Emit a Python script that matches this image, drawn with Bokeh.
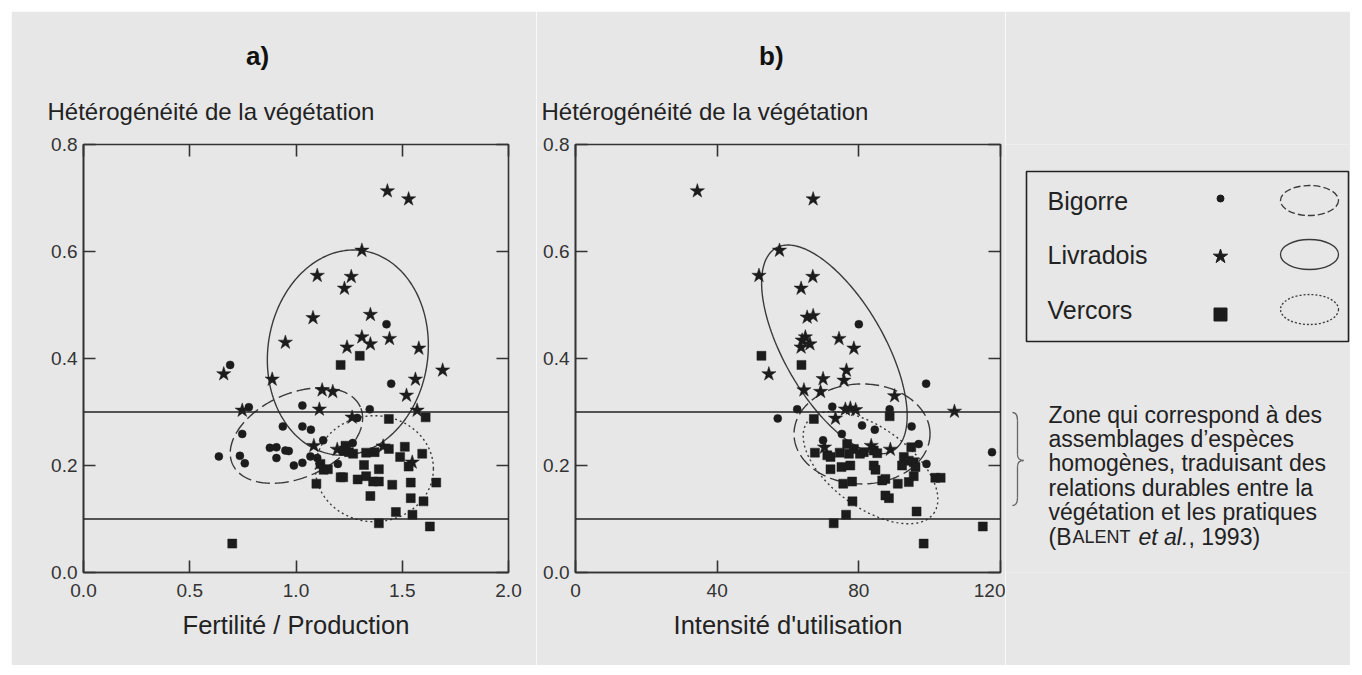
import numpy as np
from bokeh.plotting import figure
from bokeh.models import (LinearAxis, FixedTicker, Span, Range1d, Title, Spacer,
                          CustomJSTickFormatter, NumeralTickFormatter)
from bokeh.layouts import row, column
from bokeh.embed import file_html
from bokeh.resources import INLINE
from bokeh.core.properties import value

FONT = "Liberation Sans"
BG = "#e7e7e7"
INK = "#1c1c1c"
LINE = "#333333"

# ---------------- data : panel a (Fertilité / Production) ----------------
a_bigorre_x = [1.426, 0.69, 1.448, 0.778, 1.03, 1.347, 1.288, 0.938, 1.03, 1.07, 0.747, 1.128, 1.267,
               0.877, 0.908, 0.95, 0.966, 0.637, 0.736, 0.908, 0.759, 0.99, 1.03, 1.068, 1.1, 1.197]
a_bigorre_y = [0.464, 0.388, 0.353, 0.309, 0.312, 0.305, 0.289, 0.273, 0.273, 0.267, 0.259, 0.247, 0.242,
               0.233, 0.234, 0.228, 0.227, 0.217, 0.218, 0.214, 0.204, 0.200, 0.205, 0.217, 0.214, 0.203]

a_livradois_x = [1.43, 1.53, 1.31, 1.10, 1.26, 1.228, 1.08, 1.35, 1.31, 1.35, 1.44, 1.24, 1.578, 0.95,
                 1.69, 0.66, 0.888, 1.562, 1.52, 1.123, 1.173, 0.747, 1.11, 1.57, 1.264, 1.084, 1.41,
                 1.194, 1.547]
a_livradois_y = [0.713, 0.698, 0.602, 0.555, 0.553, 0.531, 0.476, 0.482, 0.440, 0.427, 0.437, 0.421, 0.419,
                 0.430, 0.378, 0.371, 0.361, 0.361, 0.331, 0.341, 0.338, 0.303, 0.305, 0.303, 0.290, 0.237,
                 0.236, 0.230, 0.206]

a_vercors_x = [1.30, 1.21, 1.61, 1.437, 1.233, 1.512, 1.437, 1.225, 1.249, 1.269, 1.33, 1.37, 1.49, 1.594,
               1.53, 1.115, 1.13, 1.15, 1.32, 1.39, 1.33, 1.21, 1.222, 1.29, 1.363, 1.39, 1.096, 1.453,
               1.54, 1.66, 1.35, 1.54, 1.60, 1.47, 1.548, 1.39, 1.63, 0.70]
a_vercors_y = [0.405, 0.388, 0.290, 0.287, 0.237, 0.235, 0.231, 0.228, 0.225, 0.222, 0.224, 0.225, 0.216,
               0.222, 0.198, 0.203, 0.192, 0.193, 0.201, 0.193, 0.180, 0.178, 0.178, 0.174, 0.170, 0.170,
               0.166, 0.164, 0.168, 0.168, 0.143, 0.139, 0.133, 0.113, 0.108, 0.092, 0.086, 0.054]

# ---------------- data : panel b (Intensité d'utilisation) ----------------
b_bigorre_x = [80.0, 99.0, 62.6, 72.5, 88.7, 57.1, 80.9, 84.5, 94.9, 75.2, 69.9, 96.9, 99.1, 117.6]
b_bigorre_y = [0.464, 0.353, 0.305, 0.310, 0.305, 0.288, 0.275, 0.267, 0.273, 0.259, 0.247, 0.240, 0.203,
               0.225]

b_livradois_x = [34.4, 67.1, 57.6, 51.8, 67.0, 63.7, 65.4, 67.1, 74.4, 78.6, 64.0, 64.9, 66.2, 63.7, 76.5,
                 54.6, 69.9, 75.8, 64.5, 69.2, 90.1, 107.0, 76.2, 77.6, 79.1, 73.4, 70.3, 83.5, 88.9]
b_livradois_y = [0.713, 0.698, 0.602, 0.555, 0.553, 0.531, 0.477, 0.480, 0.437, 0.419, 0.434, 0.440, 0.427,
                 0.421, 0.378, 0.371, 0.362, 0.359, 0.341, 0.338, 0.330, 0.301, 0.305, 0.307, 0.304, 0.288,
                 0.234, 0.237, 0.230]

b_vercors_x = [52.5, 63.8, 88.7, 67.3, 67.6, 71.1, 72.0, 74.6, 76.7, 78.6, 77.2, 80.3, 81.4, 84.2, 85.2,
               94.8, 92.7, 94.1, 95.5, 96.0, 92.2, 72.0, 75.1, 77.6, 84.2, 84.7, 101.6, 103.1, 95.5, 86.6,
               87.5, 75.6, 78.1, 91.0, 94.1, 87.5, 88.5, 78.2, 96.3, 76.4, 72.9, 115.0, 98.3]
b_vercors_y = [0.405, 0.388, 0.292, 0.287, 0.224, 0.219, 0.216, 0.224, 0.240, 0.231, 0.222, 0.222, 0.225,
               0.228, 0.223, 0.234, 0.216, 0.209, 0.206, 0.197, 0.200, 0.193, 0.197, 0.200, 0.200, 0.192,
               0.177, 0.177, 0.180, 0.172, 0.175, 0.166, 0.170, 0.166, 0.169, 0.144, 0.139, 0.133, 0.114,
               0.108, 0.092, 0.086, 0.054]

# ellipses: centre (data), semi-axes (screen px), angle of first axis (deg)
a_ell_center = {"Bigorre": (1.002, 0.256), "Livradois": (1.244, 0.411), "Vercors": (1.369, 0.194)}
b_ell_center = {"Bigorre": (80.9, 0.259), "Livradois": (73.1, 0.417), "Vercors": (83.3, 0.196)}
a_ell_axes = {"Bigorre": (70, 42, 24), "Livradois": (103, 80, 82), "Vercors": (59, 53, 0)}
b_ell_axes = {"Bigorre": (68, 50, 0), "Livradois": (117, 50, 120), "Vercors": (78, 40, -36)}

groups = ["Bigorre", "Livradois", "Vercors"]
markers = {"Bigorre": "circle", "Livradois": "star", "Vercors": "square"}
msize = {"Bigorre": 8, "Livradois": 15, "Vercors": 9}
dashes = {"Bigorre": "14 5", "Livradois": "solid", "Vercors": "2 3"}

zone_lo, zone_hi = 0.1, 0.3

a_xticks = [0.0, 0.5, 1.0, 1.5, 2.0]
b_xticks = [0, 40, 80, 120]
yticks = [0.0, 0.2, 0.4, 0.6, 0.8]

y_title = "Hétérogénéité de la végétation"
annotation_lines = ["Zone qui correspond à des", "assemblages d\u2019espèces",
                    "homogènes, traduisant des", "relations durables entre la",
                    "végétation et les pratiques"]

FRAME_W, FRAME_H = 425, 428
TOP, BOTTOM = 133, 93
H = TOP + FRAME_H + BOTTOM


def ellipse_xy(center, axes, kx, ky, n=240):
    cx, cy = center
    a, b, ang = axes
    t = np.linspace(0, 2 * np.pi, n)
    th = np.deg2rad(ang)
    px = a * np.cos(t) * np.cos(th) - b * np.sin(t) * np.sin(th)
    py = a * np.cos(t) * np.sin(th) + b * np.sin(t) * np.cos(th)
    return cx + px / kx, cy + py / ky


def panel(width, left, right, xr, xticks, xfmt, xlabel, tag, tag_off, title_off, data, centers, axes):
    p = figure(width=width, height=H, x_range=Range1d(*xr), y_range=Range1d(0, 0.8),
               output_backend="svg", toolbar_location=None,
               min_border_left=left, min_border_right=right, min_border_top=TOP, min_border_bottom=BOTTOM,
               background_fill_color=BG, border_fill_color=BG)
    p.grid.visible = False
    p.outline_line_color = LINE
    p.outline_line_width = 1.6
    p.xaxis.ticker = FixedTicker(ticks=xticks)
    p.yaxis.ticker = FixedTicker(ticks=yticks)
    p.xaxis.formatter = NumeralTickFormatter(format=xfmt)
    p.yaxis.formatter = NumeralTickFormatter(format="0.0")
    for ax in (p.xaxis[0], p.yaxis[0]):
        ax.major_tick_in = 12
        ax.major_tick_out = 0
        ax.minor_tick_in = 0
        ax.minor_tick_out = 0
        ax.axis_line_color = LINE
        ax.axis_line_width = 1.6
        ax.major_tick_line_color = LINE
        ax.major_tick_line_width = 1.6
        ax.major_label_text_font = FONT
        ax.major_label_text_font_size = "19px"
        ax.major_label_text_color = "#333333"
    p.xaxis.major_label_standoff = 11
    p.yaxis.major_label_standoff = 6
    p.xaxis.axis_label = xlabel
    p.xaxis.axis_label_text_font = FONT
    p.xaxis.axis_label_text_font_size = "25.5px"
    p.xaxis.axis_label_text_font_style = "normal"
    p.xaxis.axis_label_text_color = "#222222"
    p.xaxis.axis_label_standoff = 11
    # mirrored ticks on top / right
    for loc, tk in (("above", xticks), ("right", yticks)):
        ax = LinearAxis(ticker=FixedTicker(ticks=tk), formatter=CustomJSTickFormatter(code="return ''"),
                        major_tick_in=12, major_tick_out=0, minor_tick_in=0, minor_tick_out=0,
                        axis_line_color=None, major_tick_line_color=LINE, major_tick_line_width=1.6,
                        major_label_standoff=0)
        p.add_layout(ax, loc)
    # y-axis title (horizontal, above the frame) and panel tag
    p.add_layout(Title(text=y_title, align="left", offset=title_off, text_font=FONT,
                       text_font_size="24px", text_font_style="normal", text_color="#222222",
                       standoff=40), "above")
    p.title.text = tag
    p.title.align = "left"
    p.title.offset = tag_off
    p.title.text_font = FONT
    p.title.text_font_size = "26px"
    p.title.text_font_style = "bold"
    p.title.text_color = "#111111"
    p.title.standoff = 9

    p.add_layout(Span(location=zone_hi, dimension="width", line_color="#222222", line_width=1.6))
    p.add_layout(Span(location=zone_lo, dimension="width", line_color="#222222", line_width=1.6))
    kx = FRAME_W / (xr[1] - xr[0])
    ky = FRAME_H / 0.8
    for g in groups:
        ex, ey = ellipse_xy(centers[g], axes[g], kx, ky)
        p.line(ex, ey, line_color="#3a3a3a", line_width=1.4, line_dash=dashes[g])
    for g in groups:
        xs, ys = data[g]
        p.scatter(xs, ys, marker=markers[g], size=msize[g], fill_color=INK, line_color=INK, line_width=0.5)
    return p


pa = panel(525, 72, 28, (0, 2), a_xticks, "0.0", "Fertilité / Production", "a)", 162.5, -36,
           {"Bigorre": (a_bigorre_x, a_bigorre_y), "Livradois": (a_livradois_x, a_livradois_y),
            "Vercors": (a_vercors_x, a_vercors_y)}, a_ell_center, a_ell_axes)
pb = panel(469, 39, 5, (0, 120), b_xticks, "0", "Intensité d'utilisation", "b)", 183.5, -34,
           {"Bigorre": (b_bigorre_x, b_bigorre_y), "Livradois": (b_livradois_x, b_livradois_y),
            "Vercors": (b_vercors_x, b_vercors_y)}, b_ell_center, b_ell_axes)

# ---------------- legend + annotation panel (1 unit = 1 px) ----------------
WC = 345
pc = figure(width=WC, height=H, x_range=Range1d(0, WC), y_range=Range1d(0, FRAME_H),
            output_backend="svg", toolbar_location=None, x_axis_type=None, y_axis_type=None,
            min_border_left=0, min_border_right=0, min_border_top=TOP, min_border_bottom=BOTTOM,
            background_fill_color=BG, border_fill_color=BG)
pc.grid.visible = False
pc.outline_line_color = None

pc.quad(left=[21], right=[343], bottom=[231], top=[401], fill_color=None, line_color="#222222",
        line_width=1.6)
leg_text_y = [372, 318, 263]
leg_mark_y = [374, 316, 258]
leg_ell_y = [372, 318, 263]
leg_msize = {"Bigorre": 7, "Livradois": 15, "Vercors": 13}
leg_dash = {"Bigorre": "7 3", "Livradois": "solid", "Vercors": "2 2"}
for i, g in enumerate(groups):
    pc.text(x=[42], y=[leg_text_y[i]], text=[g], text_font=value(FONT), text_font_size="25px",
            text_baseline="middle", text_align="left", text_color="#222222")
    pc.scatter([215], [leg_mark_y[i]], marker=markers[g], size=leg_msize[g], fill_color=INK, line_color=INK)
    pc.ellipse(x=[304], y=[leg_ell_y[i]], width=58, height=30, fill_color=None, line_color="#3a3a3a",
               line_width=1.3, line_dash=leg_dash[g])

# brace
bc = "#666666"
pc.quadratic(x0=[7], y0=[160], x1=[12], y1=[152], cx=[12], cy=[160], line_color=bc, line_width=1.3)
pc.line([12, 12], [152, 118], line_color=bc, line_width=1.3)
pc.quadratic(x0=[12], y0=[118], x1=[18], y1=[112], cx=[12], cy=[112], line_color=bc, line_width=1.3)
pc.quadratic(x0=[18], y0=[112], x1=[12], y1=[106], cx=[12], cy=[112], line_color=bc, line_width=1.3)
pc.line([12, 12], [106, 75], line_color=bc, line_width=1.3)
pc.quadratic(x0=[12], y0=[75], x1=[7], y1=[67], cx=[12], cy=[67], line_color=bc, line_width=1.3)

ann_y = [158, 133.6, 109.2, 84.8, 60.4]
pc.text(x=[43] * len(annotation_lines), y=ann_y, text=annotation_lines, text_font=value(FONT),
        text_font_size="23px", text_baseline="alphabetic", text_align="left", text_color="#222222")
last_y = 36
pc.text(x=[43], y=[last_y], text=["(B"], text_font=value(FONT), text_font_size="23px",
        text_baseline="alphabetic", text_color="#222222")
pc.text(x=[67], y=[last_y], text=["ALENT"], text_font=value(FONT), text_font_size="18px",
        text_baseline="alphabetic", text_color="#222222")
pc.text(x=[133], y=[last_y], text=["et al."], text_font=value(FONT), text_font_size="23px",
        text_font_style="italic", text_baseline="alphabetic", text_color="#222222")
pc.text(x=[183], y=[last_y], text=[", 1993)"], text_font=value(FONT), text_font_size="23px",
        text_baseline="alphabetic", text_color="#222222")

layout = column(Spacer(height=11), row(Spacer(width=11), pa, pb, pc, spacing=0), spacing=0)
open("out.html", "w").write(file_html(layout, INLINE))
